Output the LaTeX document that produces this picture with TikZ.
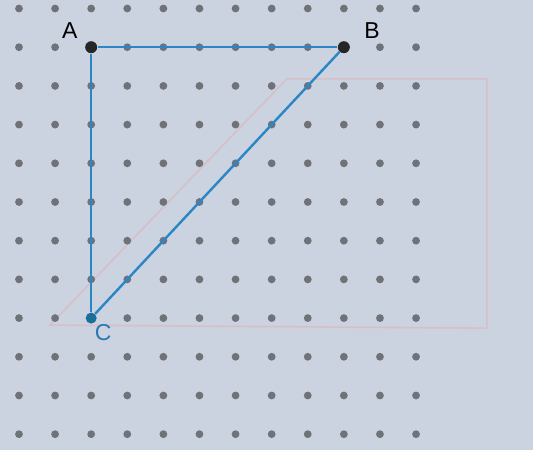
\documentclass[tikz,border=0pt]{standalone}
\usepackage{fontspec}
\setmainfont{Liberation Sans}
\definecolor{paper}{RGB}{203,210,224}
\definecolor{dotgray}{RGB}{112,114,122}
\definecolor{segblue}{RGB}{43,134,197}
\definecolor{cblue}{RGB}{27,110,154}
\definecolor{ghost}{RGB}{214,192,200}
\begin{document}
\begin{tikzpicture}[
            x=18.05pt,
            y=-19.35pt,
            vertex/.style={
                circle,
                fill=black!85,
                inner sep=0pt,
                minimum size=6pt
            },
            tag/.style={
                font=\fontsize{11.5}{11.5}\selectfont,
                inner sep=0pt
            }
        ]
            % paper
            \fill[paper] (-0.526,-0.22) rectangle (14.24,11.41);
            \useasboundingbox (-0.526,-0.22) rectangle (14.24,11.41);

            % show-through from the other side of the page
            \draw[ghost, line width=0.8pt] (0.86,8.18) -- (7.42,1.82) -- (12.96,1.82) -- (12.96,8.26) -- cycle;

            % dot grid
            \foreach \i in {0,...,11}
                \foreach \j in {0,...,11}
                    \fill[dotgray] (\i,\j) circle (1.95pt);

            \node[vertex] (A) at (2,1) {};
            \node[vertex] (B) at (9,1) {};
            \node[vertex, fill=cblue, minimum size=5.5pt] (C) at (2,8) {};

            \draw[segblue, line width=1.2pt] (A)--(B);
            \draw[segblue, line width=1.2pt] (B)--(C);
            \draw[segblue, line width=1.2pt] (C)--(A);

            \node[tag] (a) at (1.41,0.56) {A};
            \node[tag] (b) at (9.78,0.56) {B};
            \node[tag, text=segblue!90!black] (c) at (2.33,8.38) {C};
        \end{tikzpicture}
\end{document}
